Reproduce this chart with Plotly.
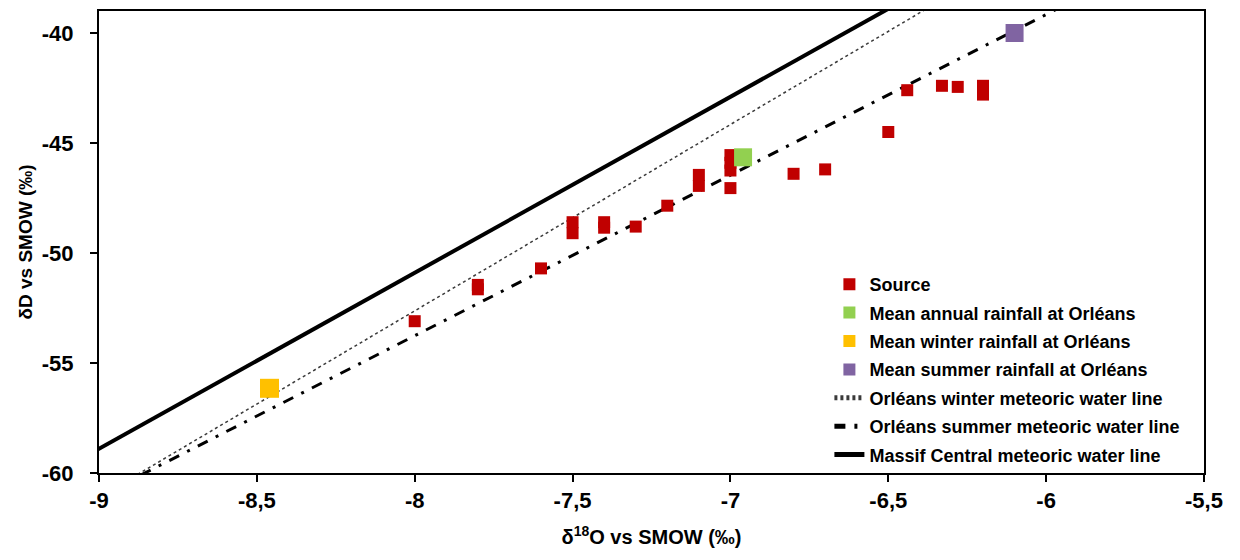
import plotly.graph_objects as go

# ---- data ----
source_x = [-8.0, -7.8, -7.8, -7.6, -7.5, -7.5, -7.4, -7.4, -7.3, -7.2,
            -7.1, -7.1, -7.0, -7.0, -7.0, -7.0, -6.8, -6.7, -6.5, -6.44,
            -6.33, -6.28, -6.2, -6.2]
source_y = [-53.1, -51.45, -51.65, -50.7, -48.6, -49.1, -48.6, -48.85, -48.8, -47.85,
            -46.45, -46.95, -45.55, -45.9, -46.25, -47.05, -46.4, -46.2, -44.5, -42.6,
            -42.4, -42.45, -42.4, -42.8]

annual_x = [-6.96]
annual_y = [-45.65]
winter_x = [-8.46]
winter_y = [-56.15]
summer_x = [-6.1]
summer_y = [-40.0]

# meteoric water lines: dD = slope * d18O + intercept
line_names = ["Orléans winter meteoric water line",
              "Orléans summer meteoric water line",
              "Massif Central meteoric water line"]
line_slopes = [8.47, 7.3, 8.0]
line_intercepts = [15.13, 4.64, 13.1]

x_ticks = [-9, -8.5, -8, -7.5, -7, -6.5, -6, -5.5]
x_tick_text = ["-9", "-8,5", "-8", "-7,5", "-7", "-6,5", "-6", "-5,5"]
y_ticks = [-60, -55, -50, -45, -40]
y_tick_text = ["-60", "-55", "-50", "-45", "-40"]

X_RANGE = [-9, -5.5]
Y_RANGE = [-60, -39]

FONT = "Liberation Sans, Arial, sans-serif"

fig = go.Figure()

line_styles = [
    dict(color="#3a3a3a", width=1.5, dash="3px,3px"),
    dict(color="black", width=3, dash="11px,9px,3px,9px"),
    dict(color="black", width=4, dash="solid"),
]

for i, (name, m, b) in enumerate(zip(line_names, line_slopes, line_intercepts)):
    xs = [X_RANGE[0] - 0.5, X_RANGE[1] + 0.5]
    ys = [m * xv + b for xv in xs]
    fig.add_trace(go.Scatter(x=xs, y=ys, mode="lines", name=name,
                             line=line_styles[i], legendrank=5 + i,
                             legendgroup=f"g{i+5}"))

fig.add_trace(go.Scatter(x=source_x, y=source_y, mode="markers", name="Source",
                         marker=dict(symbol="square", size=12, color="#C00000"),
                         legendrank=1, legendgroup="g1"))
fig.add_trace(go.Scatter(x=annual_x, y=annual_y, mode="markers",
                         name="Mean annual rainfall at Orléans",
                         marker=dict(symbol="square", size=18, color="#92D050"),
                         legendrank=2, legendgroup="g2"))
fig.add_trace(go.Scatter(x=winter_x, y=winter_y, mode="markers",
                         name="Mean winter rainfall at Orléans",
                         marker=dict(symbol="square", size=19, color="#FFC000"),
                         legendrank=3, legendgroup="g3"))
fig.add_trace(go.Scatter(x=summer_x, y=summer_y, mode="markers",
                         name="Mean summer rainfall at Orléans",
                         marker=dict(symbol="square", size=18, color="#8064A2"),
                         legendrank=4, legendgroup="g4"))

axis_common = dict(showline=True, linecolor="black", linewidth=2, mirror=True,
                   showgrid=False, zeroline=False, ticks="outside",
                   tickcolor="black", ticklen=7, tickwidth=1.5, automargin=False,
                   tickfont=dict(family=FONT, size=22, color="black", weight="bold"))

fig.update_layout(
    width=1232, height=552,
    margin=dict(l=91, r=36, t=3, b=87),
    paper_bgcolor="white", plot_bgcolor="white",
    showlegend=True,
    legend=dict(x=0.661, y=0.0, xanchor="left", yanchor="bottom",
                bgcolor="rgba(255,255,255,0)", borderwidth=0,
                font=dict(family=FONT, size=18, color="black", weight="bold"),
                traceorder="grouped", tracegroupgap=2, itemwidth=30,
                itemsizing="constant"),
    xaxis=dict(range=X_RANGE, tickvals=x_ticks, ticktext=x_tick_text,
               title=dict(text="δ<sup>18</sup>O vs SMOW (‰)", standoff=18,
                          font=dict(family=FONT, size=20, color="black", weight="bold")),
               **axis_common),
    yaxis=dict(range=Y_RANGE, tickvals=y_ticks, ticktext=y_tick_text,
               ticklabelstandoff=12,
               title=dict(text="δD vs SMOW (‰)", standoff=4,
                          font=dict(family=FONT, size=19, color="black", weight="bold")),
               **axis_common),
)

fig.write_html("out.html")
